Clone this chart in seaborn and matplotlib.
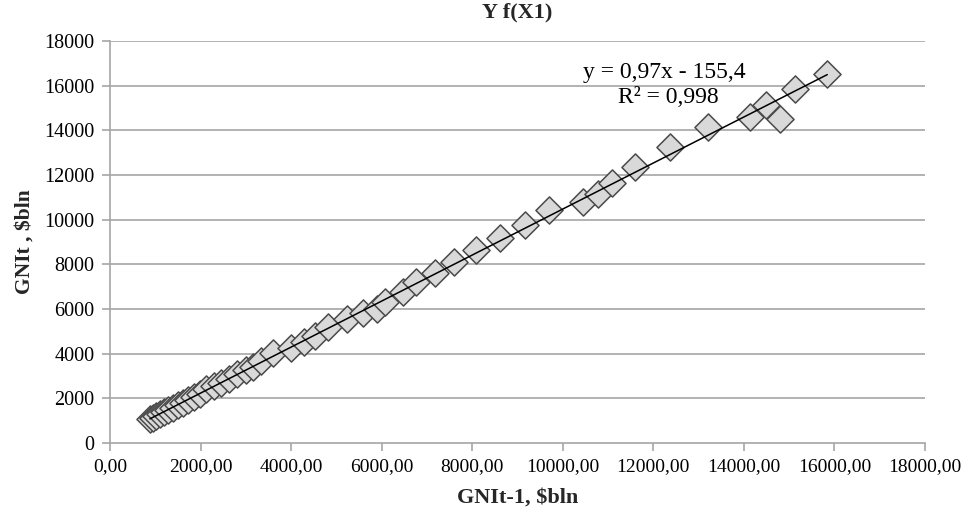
import matplotlib
matplotlib.use("Agg")
import matplotlib.pyplot as plt
import seaborn as sns
import pandas as pd
import numpy as np

# Data (GNI previous year vs current year, $bln)
gni_prev = [880, 950, 1020, 1100, 1200, 1290, 1400, 1510, 1620, 1730, 1850, 1990,
            2120, 2300, 2460, 2630, 2800, 3010, 3160, 3330, 3590, 3990, 4290, 4520,
            4822, 5240, 5590, 5890, 6080, 6480, 6760, 7180, 7600, 8080, 8610, 9165,
            9700, 10450, 10780, 11090, 11600, 12370, 13210, 14130, 14800, 14480,
            15130, 15840]
gni_curr = [1080, 1140, 1210, 1290, 1380, 1470, 1580, 1700, 1810, 1920, 2060, 2180,
            2420, 2560, 2700, 2850, 3080, 3260, 3400, 3680, 4050, 4270, 4510, 4800,
            5200, 5560, 5800, 6000, 6330, 6780, 7230, 7630, 8090, 8640, 9170, 9760,
            10430, 10800, 11140, 11630, 12370, 13240, 14140, 14590, 14500, 15140,
            15850, 16520]

x_ticks = [0, 2000, 4000, 6000, 8000, 10000, 12000, 14000, 16000, 18000]
x_tick_labels = ["0,00", "2000,00", "4000,00", "6000,00", "8000,00", "10000,00",
                 "12000,00", "14000,00", "16000,00", "18000,00"]
y_ticks = [0, 2000, 4000, 6000, 8000, 10000, 12000, 14000, 16000, 18000]
y_tick_labels = ["0", "2000", "4000", "6000", "8000", "10000", "12000", "14000",
                 "16000", "18000"]

title = "Y f(X1)"
x_label = "GNIt-1, \\$bln"
y_label = "GNIt , \\$bln"
eq_text = "y = 0,97x - 155,4"
r2_text = "R² = 0,998"

df = pd.DataFrame({"prev": gni_prev, "curr": gni_curr})

sns.set_theme(style="white")
plt.rcParams["font.family"] = "serif"
plt.rcParams["font.serif"] = ["Liberation Serif", "DejaVu Serif"]

fig = plt.figure(figsize=(9.66, 5.13), dpi=100)
ax = fig.add_axes([0.1139, 0.1365, 0.9576 - 0.1139, 0.920 - 0.1365])

grid_c = "#a6a6a6"
for yv in y_ticks[1:]:
    ax.axhline(yv, color=grid_c, lw=1.2, zorder=0)

sns.regplot(data=df, x="prev", y="curr", scatter=False, ci=None, ax=ax,
            line_kws=dict(color="black", lw=1.1, zorder=3), truncate=True)
sns.scatterplot(data=df, x="prev", y="curr", marker="D", s=13.8 ** 2,
                color="#d9d9d9", edgecolor="#4a4a4a", linewidth=1.1, ax=ax, zorder=2)

ax.set_xlim(0, 18000)
ax.set_ylim(0, 18000)
ax.set_xticks(x_ticks)
ax.set_xticklabels(x_tick_labels, fontsize=14)
ax.set_yticks(y_ticks)
ax.set_yticklabels(y_tick_labels, fontsize=14.5)

for side in ["top", "right"]:
    ax.spines[side].set_visible(False)
for side in ["left", "bottom"]:
    ax.spines[side].set_color(grid_c)
    ax.spines[side].set_linewidth(1.2)
ax.tick_params(axis="both", which="major", direction="out", length=6, width=1.2,
               color=grid_c, labelcolor="black", pad=5)
ax.tick_params(left=True, bottom=True)

ax.set_xlabel(x_label, fontsize=16, fontweight="bold", labelpad=9)
ax.set_ylabel(y_label, fontsize=15.5, fontweight="bold", labelpad=7)
ax.set_title(title, fontsize=16, fontweight="bold", pad=17)

fig.text(0.688, 0.8596, eq_text, ha="center", va="center", fontsize=17, color="black")
fig.text(0.6915, 0.809, r2_text, ha="center", va="center", fontsize=17, color="black")

fig.savefig("out.png", dpi=100)
